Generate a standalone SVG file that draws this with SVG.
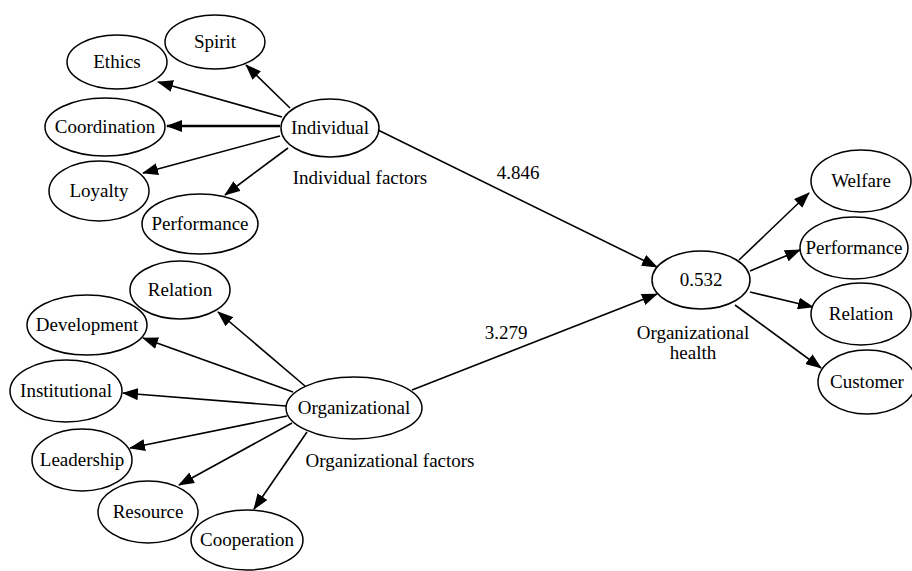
<svg xmlns="http://www.w3.org/2000/svg" width="912" height="571" viewBox="0 0 912 571">
<style>
  ellipse { fill: #fff; stroke: #000; stroke-width: 1.5; }
  text { font-family: "Liberation Serif", "Times New Roman", serif; font-size: 19px; fill: #000; text-anchor: middle; }
  .c line { stroke: #000; stroke-width: 1.6; marker-end: url(#ah); }
</style>
<defs>
  <marker id="ah" markerUnits="userSpaceOnUse" markerWidth="16" markerHeight="12" refX="15" refY="6" orient="auto">
    <path d="M0,0 L16,6 L0,12 Z" fill="#000"/>
  </marker>
</defs>
<rect width="912" height="571" fill="#fff"/>
<g class="c" id="connectors">
  <line x1="290" y1="108" x2="246" y2="65"/>
  <line x1="282" y1="117" x2="158" y2="82"/>
  <line x1="280" y1="126" x2="167" y2="126" style="stroke-width:2.4"/>
  <line x1="280" y1="136" x2="143" y2="173"/>
  <line x1="288" y1="148" x2="225" y2="195"/>
  <line x1="378" y1="130" x2="657" y2="267"/>
  <line x1="412" y1="390" x2="657" y2="294"/>
  <line x1="305" y1="386" x2="218" y2="312"/>
  <line x1="293" y1="392" x2="143" y2="338"/>
  <line x1="286" y1="406" x2="123" y2="393"/>
  <line x1="287" y1="416" x2="130" y2="448"/>
  <line x1="292" y1="423" x2="179" y2="485"/>
  <line x1="307" y1="432" x2="254" y2="509"/>
  <line x1="739" y1="260" x2="809" y2="193"/>
  <line x1="750" y1="271" x2="800" y2="250"/>
  <line x1="750" y1="292" x2="813" y2="307"/>
  <line x1="735" y1="305" x2="821" y2="368"/>
</g>
<g id="labels">
  <text x="518" y="179">4.846</text>
  <text x="506" y="339">3.279</text>
  <text x="360" y="184">Individual factors</text>
  <text x="390" y="467">Organizational factors</text>
  <text x="693" y="339">Organizational</text>
  <text x="693" y="359">health</text>
</g>
<g id="spirit"><ellipse cx="215" cy="42" rx="50" ry="27"/><text x="215" y="48">Spirit</text></g>
<g id="ethics"><ellipse cx="117" cy="62" rx="50" ry="27"/><text x="117" y="68">Ethics</text></g>
<g id="coordination"><ellipse cx="105" cy="127" rx="60" ry="29"/><text x="105" y="133">Coordination</text></g>
<g id="loyalty"><ellipse cx="99" cy="191" rx="50" ry="30"/><text x="99" y="197">Loyalty</text></g>
<g id="performance1"><ellipse cx="200" cy="224" rx="58" ry="30"/><text x="200" y="230">Performance</text></g>
<g id="individual"><ellipse cx="330" cy="128" rx="49" ry="29"/><text x="330" y="134">Individual</text></g>
<g id="relation1"><ellipse cx="180" cy="290" rx="50" ry="29"/><text x="180" y="296">Relation</text></g>
<g id="development"><ellipse cx="87" cy="325" rx="60" ry="30"/><text x="87" y="331">Development</text></g>
<g id="institutional"><ellipse cx="66" cy="391" rx="56" ry="31"/><text x="66" y="397">Institutional</text></g>
<g id="organizational"><ellipse cx="354" cy="408" rx="68" ry="31"/><text x="354" y="414">Organizational</text></g>
<g id="leadership"><ellipse cx="82" cy="460" rx="50" ry="31"/><text x="82" y="466">Leadership</text></g>
<g id="resource"><ellipse cx="148" cy="512" rx="50" ry="31"/><text x="148" y="518">Resource</text></g>
<g id="cooperation"><ellipse cx="247" cy="540" rx="56" ry="30"/><text x="247" y="546">Cooperation</text></g>
<g id="health"><ellipse cx="701" cy="280" rx="49" ry="29"/><text x="701" y="286">0.532</text></g>
<g id="welfare"><ellipse cx="861" cy="181" rx="50" ry="31"/><text x="861" y="187">Welfare</text></g>
<g id="performance2"><ellipse cx="854" cy="248" rx="54" ry="31"/><text x="854" y="254">Performance</text></g>
<g id="relation2"><ellipse cx="861" cy="314" rx="50" ry="31"/><text x="861" y="320">Relation</text></g>
<g id="customer"><ellipse cx="867" cy="382" rx="49" ry="32"/><text x="867" y="388">Customer</text></g>
</svg>
